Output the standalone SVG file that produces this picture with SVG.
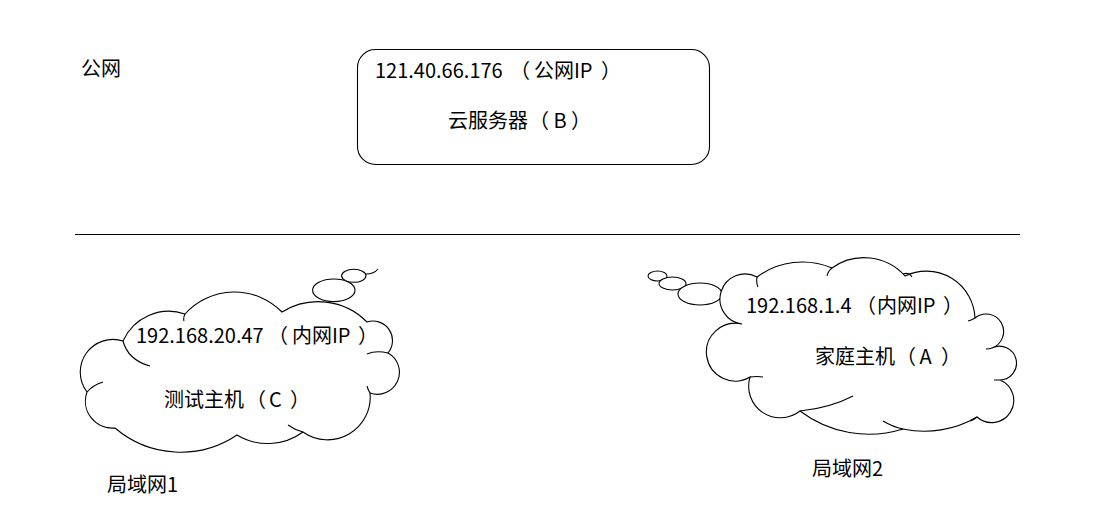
<svg xmlns="http://www.w3.org/2000/svg" width="1097" height="529" viewBox="0 0 1097 529">
<style>
.t{font-family:"Noto Sans CJK SC","Noto Sans",sans-serif;font-size:20px;fill:#000}
.s{fill:#fff;stroke:#000;stroke-width:1.1}
.h{fill:none;stroke:#000;stroke-width:1.1}
</style>
<rect width="1097" height="529" fill="#fff"/>
<g id="label-public"><text class="t" x="81" y="76">公网</text></g>
<g id="connectors"><path class="h" d="M75,234.5 H1020"/></g>
<g id="server-B">
<rect class="s" x="357.5" y="49.5" width="352" height="115" rx="18"/>
<text class="t" y="78"><tspan x="375">121.40.66.176</tspan><tspan x="510">（</tspan><tspan x="534">公网IP</tspan><tspan x="601">）</tspan></text>
<text class="t" y="128"><tspan x="448">云服务器</tspan><tspan x="529">（</tspan><tspan x="553.5">B</tspan><tspan x="571">）</tspan></text>
</g>
<g id="host-C">
<ellipse class="s" cx="353.8" cy="275.8" rx="12.2" ry="6.5"/>
<ellipse class="s" cx="333.8" cy="290.3" rx="21.2" ry="11.3"/>
<path class="h" d="M366,274 Q374,274 378,269"/>
<path class="s" d="M123,341 A50,50 0 0 1 185,314 A66.5,66.5 0 0 1 282,312 A68.6,68.6 0 0 1 367,322 A19.5,19.5 0 0 1 388,353 A22,22 0 0 1 370,393 A42.6,42.6 0 0 1 303,432 A59.5,59.5 0 0 1 237,435 A101,101 0 0 1 115,428 A27,27 0 0 1 87,392 A32.7,32.7 0 0 1 123,341 Z"/>
<path class="h" d="M123,341 Q128,360 150,366 M87,392 Q93,385 103,382 M388,353 Q376,350 367,354 M303,432 Q295,430 288,425 M370,393 Q368,390 367,386 M185,314 Q183,318 184,321"/>
<text class="t" y="343"><tspan x="136">192.168.20.47</tspan><tspan x="268">（</tspan><tspan x="292">内网IP</tspan><tspan x="358">）</tspan></text>
<text class="t" y="407"><tspan x="164">测试主机</tspan><tspan x="246">（</tspan><tspan x="269">C</tspan><tspan x="290">）</tspan></text>
</g>
<g id="lan1"><text class="t" x="107" y="492">局域网1</text></g>
<g id="host-A">
<ellipse class="s" cx="657.5" cy="276" rx="9.5" ry="5"/>
<ellipse class="s" cx="672.5" cy="283.5" rx="13.5" ry="6.5"/>
<ellipse class="s" cx="700" cy="294" rx="22" ry="11"/>
<path class="s" d="M742,324 A25.1,25.1 0 1 1 757,277 A76,76 0 0 1 832,268 A55,55 0 0 1 905,276 A48.8,48.8 0 0 1 975,318 A17.5,17.5 0 1 1 992,348 A16.9,16.9 0 1 1 1000,380 A22.1,22.1 0 1 1 977,417 A104,104 0 0 1 903,429 A114,114 0 0 1 800,411 A31.7,31.7 0 0 1 750,377 A28.9,28.9 0 1 1 742,324 Z"/>
<path class="h" d="M757,277 Q756,283 758,287 M832,268 Q828,271 827,276 M903,274 Q909,272 912,277 M975,318 Q972,320 968,321 M992,348 Q990,349 986,349 M1000,380 Q997,380 994,380 M977,417 Q975,419 970,421 M903,429 Q893,427 883,421 M800,411 Q830,408 853,396 M750,377 Q757,376 763,377"/>
<text class="t" y="313"><tspan x="746">192.168.1.4</tspan><tspan x="856">（</tspan><tspan x="877">内网IP</tspan><tspan x="943">）</tspan></text>
<text class="t" y="364"><tspan x="815">家庭主机</tspan><tspan x="896">（</tspan><tspan x="919.5">A</tspan><tspan x="941">）</tspan></text>
</g>
<g id="lan2"><text class="t" x="812" y="476">局域网2</text></g>
</svg>
